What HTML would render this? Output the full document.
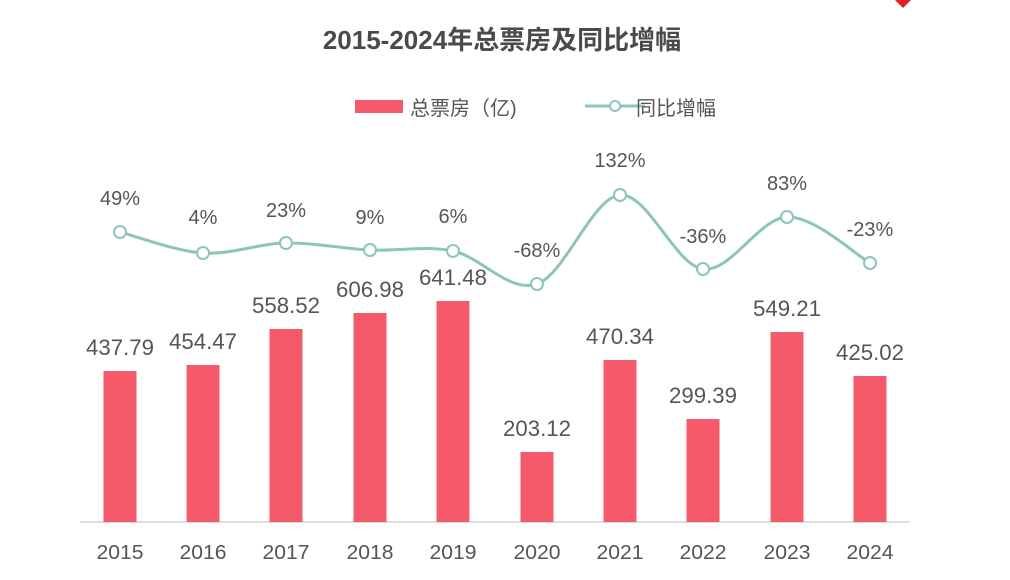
<!DOCTYPE html>
<html><head><meta charset="utf-8"><style>
body{margin:0;background:#fff;width:1010px;height:575px;overflow:hidden}
svg text{font-family:"Liberation Sans","Noto Sans CJK SC",sans-serif;fill:#555}
</style></head><body>
<svg id="s" width="1010" height="575" xmlns="http://www.w3.org/2000/svg">
<polygon points="895,0 911,0 903,8" fill="#e0202a"/>
<text x="502" y="49" text-anchor="middle" font-size="26" font-weight="bold" style="fill:#4a4a4a">2015-2024年总票房及同比增幅</text>
<rect x="355" y="100" width="48" height="13" fill="#f45a6a"/>
<text x="410" y="115" font-size="20">总票房（亿)</text>
<line x1="585" y1="106" x2="645" y2="106" stroke="#8cc5bb" stroke-width="3"/>
<circle cx="615" cy="106" r="5" fill="#fff" stroke="#8cc5bb" stroke-width="2"/>
<text x="636" y="115" font-size="20">同比增幅</text>
<line x1="80" y1="522" x2="910" y2="522" stroke="#ddd" stroke-width="2"/>
<g id="g"></g>
</svg>
<script>
var xs=[120,203,286,370,453,537,620,703,787,870];
var tops=[371,365,329,313,301,452,360,419,332,376];
var vals=["437.79","454.47","558.52","606.98","641.48","203.12","470.34","299.39","549.21","425.02"];
var ly=[232,253,243,250,251,284,195,269,217,263];
var pl=["49%","4%","23%","9%","6%","-68%","132%","-36%","83%","-23%"];
var ply=[205,224,217,224,223,257,167,243,190,236];
var g=document.getElementById('g'),h='';
for(var i=0;i<10;i++){
h+='<rect x="'+(xs[i]-16.5)+'" y="'+tops[i]+'" width="33" height="'+(522-tops[i])+'" fill="#f45a6a"/>';
h+='<text x="'+xs[i]+'" y="'+(tops[i]-16)+'" text-anchor="middle" font-size="22" textLength="68" lengthAdjust="spacingAndGlyphs">'+vals[i]+'</text>';
h+='<text x="'+xs[i]+'" y="559" text-anchor="middle" font-size="20" textLength="47" lengthAdjust="spacingAndGlyphs">'+(2015+i)+'</text>';
h+='<text x="'+xs[i]+'" y="'+ply[i]+'" text-anchor="middle" font-size="20">'+pl[i]+'</text>';
}
var d='M'+xs[0]+','+ly[0];
for(var i=0;i<9;i++){
var p0=i>0?i-1:i,p3=i<8?i+2:i+1;
var c1x=xs[i]+(xs[i+1]-xs[p0])/6,c1y=ly[i]+(ly[i+1]-ly[p0])/6;
var c2x=xs[i+1]-(xs[p3]-xs[i])/6,c2y=ly[i+1]-(ly[p3]-ly[i])/6;
d+=' C'+c1x+','+c1y+' '+c2x+','+c2y+' '+xs[i+1]+','+ly[i+1];
}
h+='<path d="'+d+'" fill="none" stroke="#8cc5bb" stroke-width="3"/>';
for(var i=0;i<10;i++)h+='<circle cx="'+xs[i]+'" cy="'+ly[i]+'" r="6" fill="#fff" stroke="#8cc5bb" stroke-width="2"/>';
g.innerHTML=h;
</script>
</body></html>
